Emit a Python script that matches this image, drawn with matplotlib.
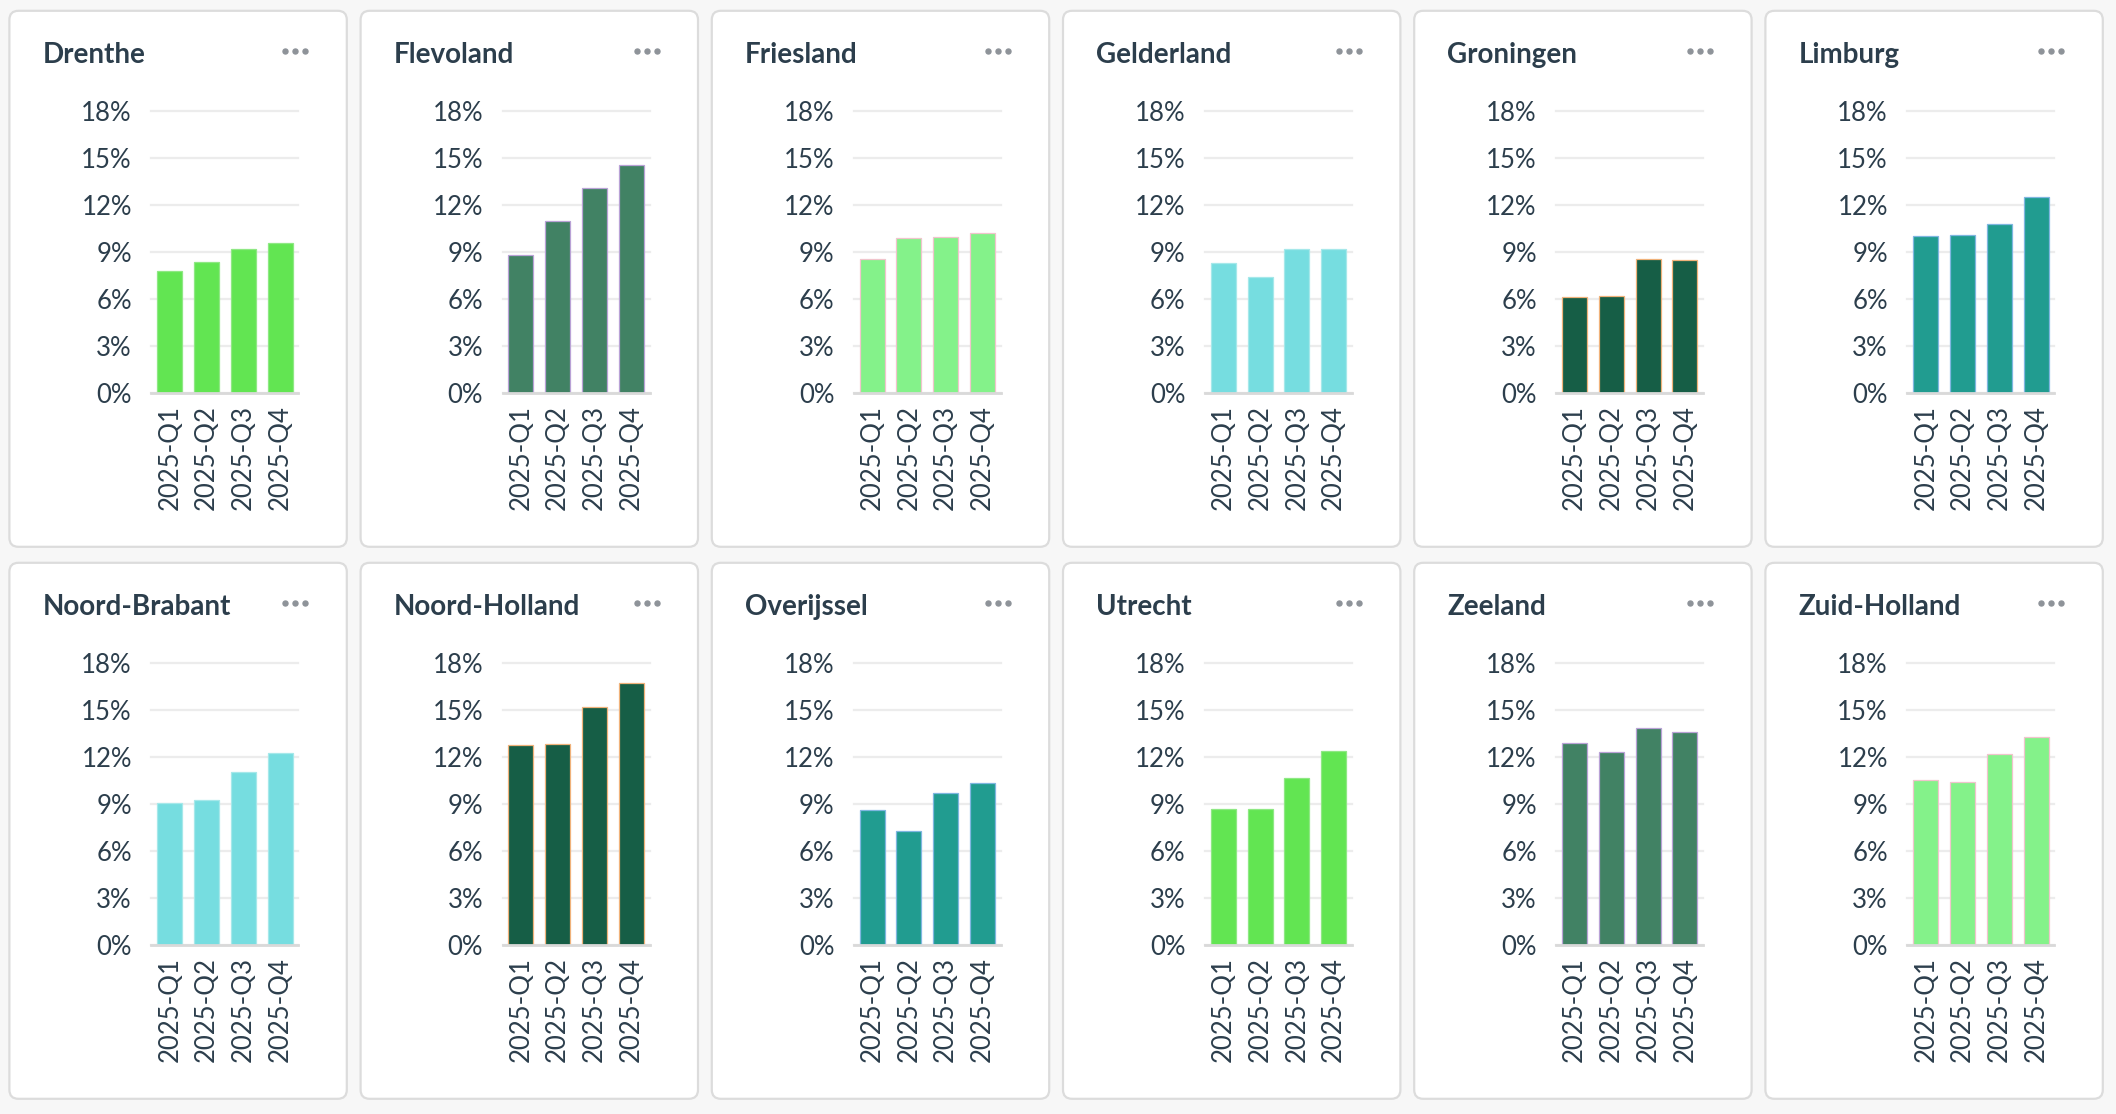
import matplotlib
matplotlib.use("Agg")
import matplotlib.pyplot as plt
from matplotlib.patches import FancyBboxPatch
from matplotlib.lines import Line2D
import numpy as np

plt.rcParams['font.family'] = ['Lato', 'DejaVu Sans']

# data (percent per quarter)
quarters = ['2025-Q1', '2025-Q2', '2025-Q3', '2025-Q4']
provinces = ['Drenthe', 'Flevoland', 'Friesland', 'Gelderland', 'Groningen', 'Limburg',
             'Noord-Brabant', 'Noord-Holland', 'Overijssel', 'Utrecht', 'Zeeland', 'Zuid-Holland']
drenthe = [7.75, 8.35, 9.15, 9.57]
flevoland = [8.82, 10.95, 13.08, 14.57]
friesland = [8.52, 9.86, 9.93, 10.18]
gelderland = [8.27, 7.41, 9.16, 9.16]
groningen = [6.1, 6.2, 8.57, 8.5]
limburg = [10.0, 10.1, 10.77, 12.48]
noord_brabant = [9.08, 9.27, 11.02, 12.26]
noord_holland = [12.77, 12.84, 15.18, 16.7]
overijssel = [8.63, 7.27, 9.66, 10.3]
utrecht = [8.7, 8.65, 10.62, 12.35]
zeeland = [12.88, 12.32, 13.86, 13.58]
zuid_holland = [10.51, 10.4, 12.2, 13.24]
series = [drenthe, flevoland, friesland, gelderland, groningen, limburg,
          noord_brabant, noord_holland, overijssel, utrecht, zeeland, zuid_holland]

# fill / edge colour per province
fills = ['#62e552', '#418264', '#84f28a', '#76dde0', '#165e46', '#219c90',
         '#76dde0', '#165e46', '#219c90', '#62e552', '#418264', '#84f28a']
edges = ['#8fe884', '#b9a2d6', '#f0c4cc', '#a6e8ea', '#f0b27a', '#7fb6e0',
         '#a6e8ea', '#f0b27a', '#7fb6e0', '#8fe884', '#b9a2d6', '#f0c4cc']

W, H = 2116, 1114
TXT = '#2c3e4c'

fig = plt.figure(figsize=(W / 100, H / 100), dpi=100, facecolor='#f7f7f7')


def inch(x, y):
    return x / 100, (H - y) / 100


for i, name in enumerate(provinces):
    r, c = divmod(i, 6)
    px = 9.4 + c * 351.2
    py = 10.8 + r * 552
    pw, ph = 337.4, 536

    # card
    x0, y0 = inch(px, py + ph)
    card = FancyBboxPatch((x0, y0), pw / 100, ph / 100,
                          boxstyle='round,pad=0,rounding_size=0.09',
                          transform=fig.dpi_scale_trans, facecolor='white',
                          edgecolor='#dcdcdc', linewidth=1.6, zorder=0)
    fig.add_artist(card)

    # title and menu dots
    fig.text((px + 33) / W, 1 - (py + 44) / H, name, fontsize=20, fontweight='bold',
             color=TXT, ha='left', va='center')
    dx = [px + 276, px + 286, px + 296]
    dy = [py + 40] * 3
    fig.add_artist(Line2D([v / 100 for v in dx], [(H - v) / 100 for v in dy],
                          transform=fig.dpi_scale_trans, linestyle='none',
                          marker='o', markersize=3.6, color='#8e9399'))

    # chart
    al, at = px + 142, py + 100
    aw, ah = 147, 282
    ax = fig.add_axes([al / W, 1 - (at + ah) / H, aw / W, ah / H])
    x = np.arange(len(quarters))
    ax.bar(x, series[i], 0.68, color=fills[i], edgecolor=edges[i], linewidth=0.9, zorder=3)
    ax.set_xlim(-0.5, 3.5)
    ax.set_ylim(0, 18)
    ax.set_yticks([0, 3, 6, 9, 12, 15, 18])
    ax.set_yticklabels(['0%', '3%', '6%', '9%', '12%', '15%', '18%'])
    ax.set_xticks(x)
    ax.set_xticklabels(quarters, rotation=90)
    ax.tick_params(axis='both', length=0, labelsize=18.5, labelcolor=TXT)
    ax.tick_params(axis='y', pad=14)
    ax.tick_params(axis='x', pad=9)
    ax.yaxis.grid(True, color='#ececec', linewidth=1.6, clip_on=False)
    ax.set_axisbelow(True)
    for s in ['top', 'right', 'left']:
        ax.spines[s].set_visible(False)
    ax.spines['bottom'].set_color('#d9d9d9')
    ax.spines['bottom'].set_linewidth(2)
    ax.spines['bottom'].set_zorder(4)
    ax.set_facecolor('none')

fig.savefig('out.png', dpi=100, facecolor=fig.get_facecolor())
